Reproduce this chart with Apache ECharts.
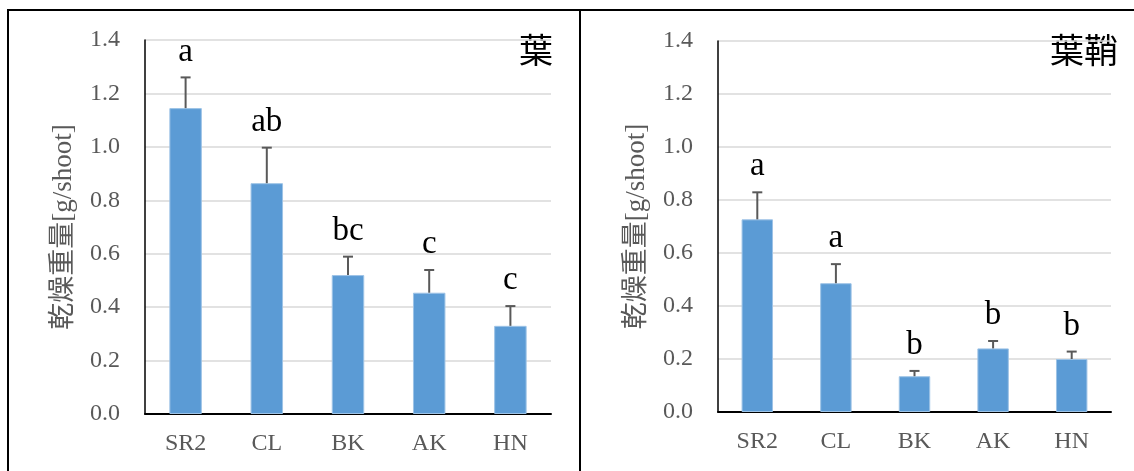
<!DOCTYPE html>
<html>
<head>
<meta charset="utf-8">
<script src="https://cdn.jsdelivr.net/npm/echarts@6/dist/echarts.min.js"></script>
<style>
  html, body { margin: 0; padding: 0; background: #fff; }
  #chart { width: 1134px; height: 471px; }
</style>
</head>
<body>
<div id="chart"></div>
<script>
// ---- data ----
const categories = ['SR2', 'CL', 'BK', 'AK', 'HN'];
const leafMean = [1.145, 0.864, 0.520, 0.454, 0.330];
const leafErr = [0.115, 0.133, 0.069, 0.085, 0.074];
const leafSig = ['a', 'ab', 'bc', 'c', 'c'];
const sheathMean = [0.727, 0.486, 0.135, 0.240, 0.200];
const sheathErr = [0.102, 0.072, 0.020, 0.028, 0.028];
const sheathSig = ['a', 'a', 'b', 'b', 'b'];
const panelTitles = ['葉', '葉鞘'];
const yAxisName = '乾燥重量[g/shoot]';
const yMin = 0, yMax = 1.4, yInterval = 0.2;

const serif = "'Liberation Serif', 'Noto Sans CJK JP', serif";
const gray = '#595959';
const barColor = '#5B9BD5';

const chart = echarts.init(document.getElementById('chart'), null, { renderer: 'canvas' });

function xAxis(gi) {
  return {
    type: 'category', gridIndex: gi, data: categories,
    axisLine: { lineStyle: { color: '#000', width: 2 } },
    axisTick: { show: false },
    axisLabel: { color: gray, fontFamily: serif, fontSize: 24, margin: 18 }
  };
}
function yAxis(gi) {
  return {
    type: 'value', gridIndex: gi, min: yMin, max: yMax, interval: yInterval,
    name: yAxisName, nameLocation: 'middle', nameGap: 68, nameRotate: 90,
    nameTextStyle: { color: gray, fontFamily: serif, fontSize: 27 },
    axisLine: { show: true, lineStyle: { color: '#000', width: 1.5 } },
    axisTick: { show: false },
    axisLabel: { color: gray, fontFamily: serif, fontSize: 24, margin: 25,
      formatter: v => v.toFixed(1) },
    splitLine: { lineStyle: { color: '#d9d9d9', width: 1.5 } }
  };
}
function errSeries(gi, mean, err, sig) {
  return {
    type: 'custom', xAxisIndex: gi, yAxisIndex: gi, z: 5,
    data: mean.map((m, i) => [i, m, m + err[i]]),
    encode: { x: 0, y: [1, 2] },
    renderItem: function (params, api) {
      const i = api.value(0);
      const p1 = api.coord([i, api.value(1)]);
      const p2 = api.coord([i, api.value(2)]);
      const style = { stroke: gray, lineWidth: 2 };
      return {
        type: 'group',
        children: [
          { type: 'line', shape: { x1: p1[0], y1: p1[1], x2: p2[0], y2: p2[1] }, style: style },
          { type: 'line', shape: { x1: p2[0] - 5, y1: p2[1], x2: p2[0] + 5, y2: p2[1] }, style: style },
          { type: 'text', style: { x: p2[0], y: p2[1] - 9, text: sig[params.dataIndex],
              fill: '#000', font: "33px 'Liberation Serif', serif",
              textAlign: 'center', textVerticalAlign: 'bottom' } }
        ]
      };
    }
  };
}
function barSeries(gi, mean) {
  return {
    type: 'bar', xAxisIndex: gi, yAxisIndex: gi, data: mean, barWidth: '40%',
    itemStyle: { color: barColor, borderColor: '#9dc3e6', borderWidth: 1 },
    animation: false
  };
}

const option = {
  animation: false,
  backgroundColor: '#fff',
  grid: [
    { left: 145, top: 40, width: 406, height: 374 },
    { left: 718, top: 41, width: 393, height: 371 }
  ],
  xAxis: [xAxis(0), xAxis(1)],
  yAxis: [yAxis(0), yAxis(1)],
  series: [
    barSeries(0, leafMean), errSeries(0, leafMean, leafErr, leafSig),
    barSeries(1, sheathMean), errSeries(1, sheathMean, sheathErr, sheathSig)
  ],
  graphic: [
    { type: 'line', shape: { x1: 7, y1: 10, x2: 1134, y2: 10 }, style: { stroke: '#000', lineWidth: 2 } },
    { type: 'line', shape: { x1: 8, y1: 9, x2: 8, y2: 471 }, style: { stroke: '#000', lineWidth: 2 } },
    { type: 'line', shape: { x1: 580, y1: 9, x2: 580, y2: 471 }, style: { stroke: '#000', lineWidth: 2 } },
    { type: 'text', style: { x: 553, y: 50, text: panelTitles[0], fill: '#000',
        font: "34px 'Noto Sans CJK JP', sans-serif", textAlign: 'right', textVerticalAlign: 'middle' } },
    { type: 'text', style: { x: 1118, y: 50, text: panelTitles[1], fill: '#000',
        font: "34px 'Noto Sans CJK JP', sans-serif", textAlign: 'right', textVerticalAlign: 'middle' } }
  ]
};
chart.setOption(option);
</script>
</body>
</html>
